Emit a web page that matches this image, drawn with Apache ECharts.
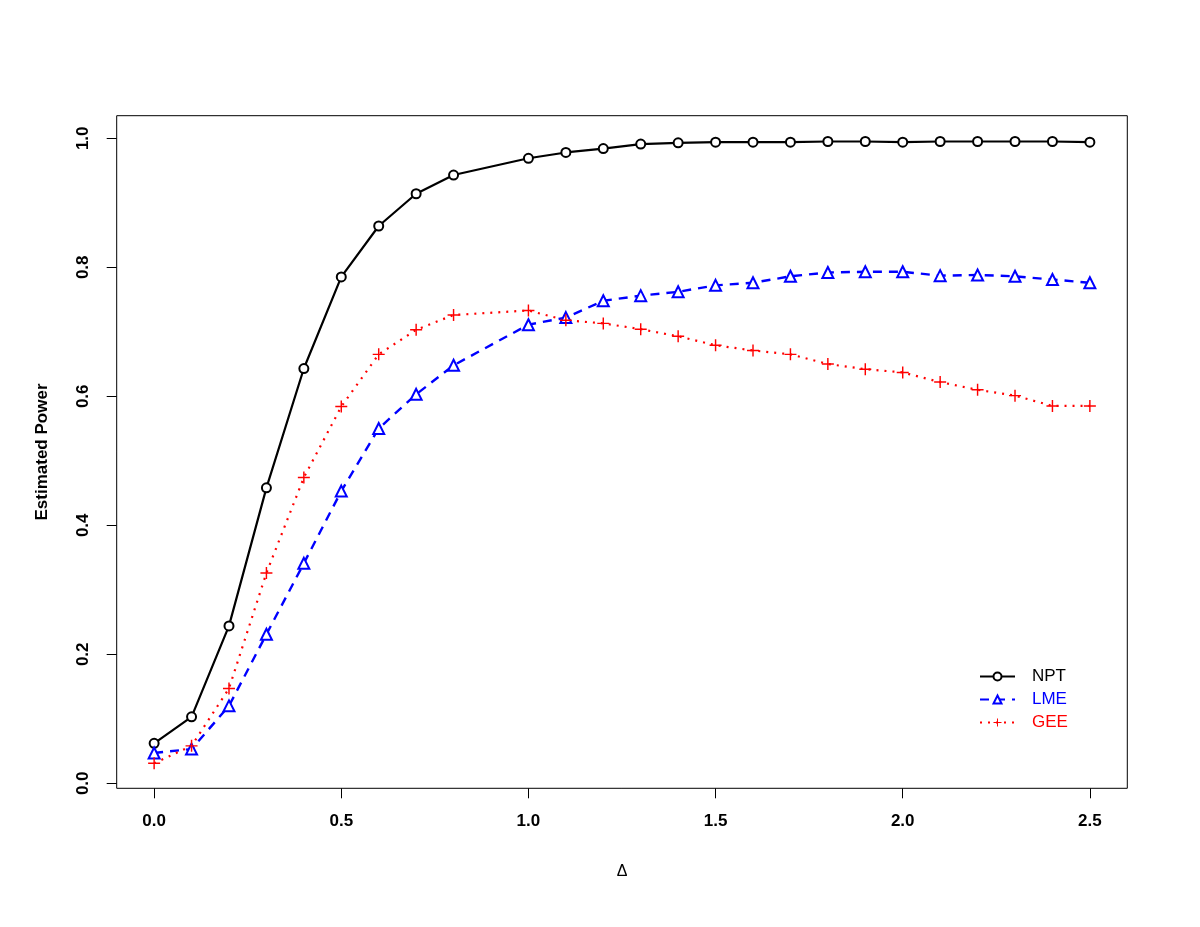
<!DOCTYPE html>
<html>
<head>
<meta charset="utf-8">
<script src="https://cdn.jsdelivr.net/npm/echarts@6/dist/echarts.min.js"></script>
<style>
html,body{margin:0;padding:0;background:#fff;}
#chart{width:1200px;height:927px;}
</style>
</head>
<body>
<div id="chart"></div>
<script>
// Data
const deltas = [0.0,0.1,0.2,0.3,0.4,0.5,0.6,0.7,0.8,1.0,1.1,1.2,1.3,1.4,1.5,1.6,1.7,1.8,1.9,2.0,2.1,2.2,2.3,2.4,2.5];
const npt = [0.062,0.103,0.244,0.458,0.643,0.785,0.864,0.914,0.943,0.969,0.978,0.984,0.991,0.993,0.994,0.994,0.994,0.995,0.995,0.994,0.995,0.995,0.995,0.995,0.994];
const lme = [0.047,0.053,0.120,0.231,0.341,0.453,0.550,0.603,0.648,0.711,0.722,0.748,0.756,0.762,0.772,0.776,0.786,0.792,0.793,0.793,0.787,0.788,0.786,0.781,0.776];
const gee = [0.031,0.058,0.147,0.326,0.474,0.584,0.665,0.703,0.726,0.733,0.718,0.713,0.704,0.693,0.679,0.671,0.665,0.650,0.642,0.637,0.622,0.610,0.601,0.585,0.585];
const xTicks = [0, 0.5, 1.0, 1.5, 2.0, 2.5];
const yTicks = [0, 0.2, 0.4, 0.6, 0.8, 1.0];
const seriesNames = ['NPT', 'LME', 'GEE'];

const pairs = arr => deltas.map((d, i) => [d, arr[i]]);
const plusPath = 'path://M4.4,0 H5.6 V4.4 H10 V5.6 H5.6 V10 H4.4 V5.6 H0 V4.4 H4.4 Z';
const FONT = '"Liberation Sans", Arial, Helvetica, sans-serif';

const chart = echarts.init(document.getElementById('chart'), null, {renderer: 'canvas'});
chart.setOption({
  animation: false,
  backgroundColor: '#ffffff',
  grid: {
    left: 116.7, right: 72.7, top: 115.7, bottom: 138.7,
    show: true, borderColor: '#000', borderWidth: 1, backgroundColor: 'transparent'
  },
  xAxis: {
    type: 'value', min: -0.1, max: 2.6,
    axisLine: {show: false, onZero: false},
    splitLine: {show: false},
    axisTick: {show: true, length: 10, inside: false, customValues: xTicks, lineStyle: {color: '#000', width: 1}},
    axisLabel: {customValues: xTicks, margin: 25, color: '#000', fontFamily: FONT, fontWeight: 'bold', fontSize: 17,
      formatter: v => v.toFixed(1)},
    name: 'Δ', nameLocation: 'middle', nameGap: 75,
    nameTextStyle: {color: '#000', fontFamily: FONT, fontSize: 16}
  },
  yAxis: {
    type: 'value', min: -0.0078, max: 1.035,
    axisLine: {show: false, onZero: false},
    splitLine: {show: false},
    axisTick: {show: true, length: 10, inside: false, customValues: yTicks, lineStyle: {color: '#000', width: 1}},
    axisLabel: {customValues: yTicks, rotate: 90, margin: 25, color: '#000', fontFamily: FONT, fontWeight: 'bold', fontSize: 17,
      formatter: v => v.toFixed(1)},
    name: 'Estimated Power', nameLocation: 'middle', nameGap: 66, nameRotate: 90,
    nameTextStyle: {color: '#000', fontFamily: FONT, fontWeight: 'bold', fontSize: 17}
  },
  legend: {
    orient: 'vertical', left: 974, top: 663,
    itemWidth: 35, itemHeight: 10, itemGap: 6,
    textStyle: {fontFamily: FONT, fontSize: 17, padding: [0, 0, 0, 12]},
    data: [
      {name: seriesNames[0], textStyle: {color: '#000000'}},
      {name: seriesNames[1], textStyle: {color: '#0000ff'}},
      {name: seriesNames[2], textStyle: {color: '#ff0000'}}
    ]
  },
  series: [
    {
      name: seriesNames[0], type: 'line', data: pairs(npt),
      symbol: 'emptyCircle', symbolSize: 9,
      lineStyle: {color: '#000', width: 2.2, type: 'solid'},
      itemStyle: {color: '#000', borderColor: '#000', borderWidth: 1}
    },
    {
      name: seriesNames[1], type: 'line', data: pairs(lme),
      symbol: 'emptyTriangle', symbolSize: 11,
      lineStyle: {color: '#0000ff', width: 2.4, type: [9, 7]},
      itemStyle: {color: '#0000ff', borderColor: '#0000ff', borderWidth: 1}
    },
    {
      name: seriesNames[2], type: 'line', data: pairs(gee),
      symbol: plusPath, symbolSize: 12,
      lineStyle: {color: '#ff0000', width: 2.2, type: [2, 6]},
      itemStyle: {color: '#ff0000'}
    }
  ]
});
</script>
</body>
</html>
